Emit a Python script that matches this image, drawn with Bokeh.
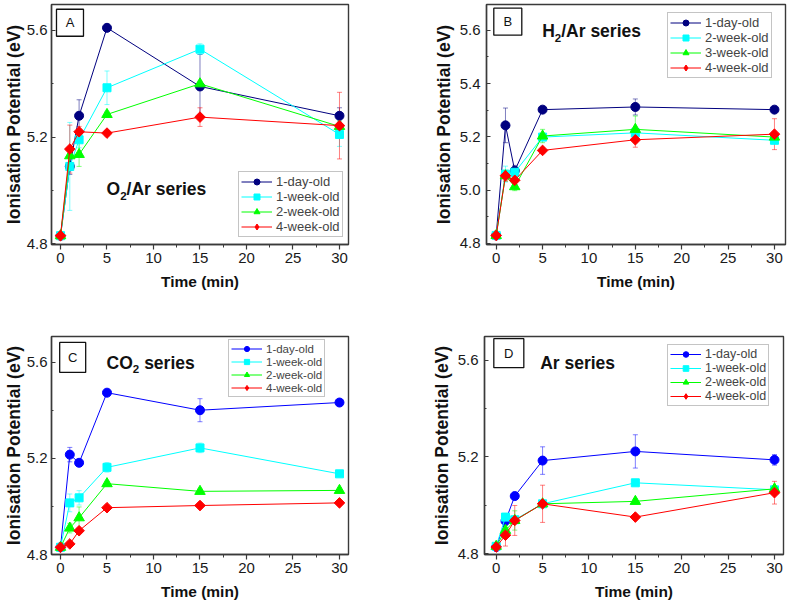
import numpy as np
from bokeh.plotting import figure
from bokeh.models import (ColumnDataSource, Whisker, TeeHead, Legend, LegendItem,
                          FixedTicker, Range1d, Label, PrintfTickFormatter)
from bokeh.layouts import column, row
from bokeh.embed import file_html
from bokeh.resources import INLINE

# ---------------- data ----------------
time_min = [0, 1, 2, 5, 15, 30]
x_ticks = [0, 5, 10, 15, 20, 25, 30]
x_minor = [2.5, 7.5, 12.5, 17.5, 22.5, 27.5]

# Panel A : O2/Ar series
a_labels = ["1-day-old", "1-week-old", "2-week-old", "4-week-old"]
a_1day = [4.83, 5.09, 5.28, 5.61, 5.39, 5.28]
a_1day_err = [0.005, 0.03, 0.06, 0.01, 0.12, 0.03]
a_1week = [4.83, 5.09, 5.19, 5.385, 5.53, 5.21]
a_1week_err = [0.005, 0.165, 0.03, 0.063, 0.02, 0.045]
a_2week = [4.83, 5.13, 5.135, 5.285, 5.40, 5.24]
a_2week_err = [0.005, 0.03, 0.045, 0.01, 0.01, 0.02]
a_4week = [4.83, 5.155, 5.22, 5.215, 5.275, 5.243]
a_4week_err = [0.005, 0.09, 0.02, 0.01, 0.035, 0.125]

# Panel B : H2/Ar series
b_labels = ["1-day-old", "2-week-old", "3-week-old", "4-week-old"]
b_1day = [4.83, 5.243, 5.073, 5.302, 5.312, 5.302]
b_1day_err = [0.005, 0.065, 0.02, 0.01, 0.03, 0.01]
b_2week = [4.83, 5.06, 5.067, 5.199, 5.215, 5.187]
b_2week_err = [0.005, 0.03, 0.02, 0.01, 0.02, 0.01]
b_3week = [4.83, 5.054, 5.013, 5.203, 5.228, 5.199]
b_3week_err = [0.005, 0.02, 0.015, 0.025, 0.05, 0.01]
b_4week = [4.83, 5.054, 5.037, 5.149, 5.189, 5.21]
b_4week_err = [0.005, 0.02, 0.015, 0.01, 0.028, 0.058]

# Panel C : CO2 series
c_labels = ["1-day-old", "1-week-old", "2-week-old", "4-week-old"]
c_1day = [4.83, 5.216, 5.182, 5.474, 5.401, 5.433]
c_1day_err = [0.005, 0.03, 0.01, 0.01, 0.048, 0.01]
c_1week = [4.83, 5.015, 5.036, 5.163, 5.244, 5.136]
c_1week_err = [0.005, 0.037, 0.03, 0.02, 0.02, 0.01]
c_2week = [4.83, 4.91, 4.953, 5.095, 5.063, 5.067]
c_2week_err = [0.005, 0.02, 0.045, 0.01, 0.01, 0.01]
c_4week = [4.83, 4.844, 4.899, 4.995, 5.004, 5.015]
c_4week_err = [0.005, 0.01, 0.01, 0.01, 0.01, 0.01]

# Panel D : Ar series
d_labels = ["1-day-old", "1-week-old", "2-week-old", "4-week-old"]
d_1day = [4.827, 4.935, 5.038, 5.185, 5.223, 5.188]
d_1day_err = [0.005, 0.01, 0.01, 0.057, 0.069, 0.022]
d_1week = [4.83, 4.951, 4.94, 5.006, 5.093, 5.064]
d_1week_err = [0.005, 0.01, 0.01, 0.01, 0.01, 0.01]
d_2week = [4.83, 4.896, 4.937, 5.006, 5.016, 5.068]
d_2week_err = [0.005, 0.02, 0.04, 0.01, 0.01, 0.01]
d_4week = [4.827, 4.876, 4.937, 5.006, 4.951, 5.052]
d_4week_err = [0.005, 0.045, 0.062, 0.077, 0.01, 0.047]

yticks_coarse = [4.8, 5.2, 5.6]
yminor_coarse = [5.0, 5.4]
yticks_fine = [4.8, 5.0, 5.2, 5.4, 5.6]
yminor_fine = [4.9, 5.1, 5.3, 5.5]

FONT = "Liberation Sans"
FRAME = "#3a3a3a"


def make_panel(w, h, borders, xr, yr, yticks, yminor, labels, series, errs,
               day_color, letter, letter_pos, letter_size, title_parts, title_pos,
               legend_loc, legend_font, legend_row, ylab_standoff, ytick_standoff):
    bl, br, bt, bb = borders
    p = figure(width=w, height=h, x_range=Range1d(*xr), y_range=Range1d(*yr),
               output_backend="svg", toolbar_location=None,
               min_border_left=bl, min_border_right=br,
               min_border_top=bt, min_border_bottom=bb)
    p.background_fill_color = "white"
    p.border_fill_color = "white"
    p.outline_line_color = FRAME
    p.outline_line_width = 1.4
    p.xgrid.visible = False
    p.ygrid.visible = False

    xa = p.xaxis[0]
    xa.ticker = FixedTicker(ticks=x_ticks, minor_ticks=x_minor)
    xa.major_tick_in = 0
    xa.major_tick_out = 5
    xa.minor_tick_in = 0
    xa.minor_tick_out = 3
    xa.major_label_standoff = 3
    xa.axis_label = "Time (min)"
    xa.axis_label_text_font = FONT
    xa.axis_label_text_font_style = "bold"
    xa.axis_label_text_font_size = "15.5px"
    xa.axis_label_standoff = 7

    ya = p.yaxis[0]
    ya.ticker = FixedTicker(ticks=yticks, minor_ticks=yminor)
    ya.formatter = PrintfTickFormatter(format="%.1f")
    ya.major_tick_in = 4
    ya.major_tick_out = 0
    ya.minor_tick_in = 2
    ya.minor_tick_out = 0
    ya.major_label_standoff = ytick_standoff
    ya.axis_label = "Ionisation Potential (eV)"
    ya.axis_label_text_font = FONT
    ya.axis_label_text_font_style = "bold"
    ya.axis_label_text_font_size = "17.5px"
    ya.axis_label_standoff = ylab_standoff

    for ax in (xa, ya):
        ax.axis_line_color = FRAME
        ax.axis_line_width = 1.4
        ax.major_tick_line_color = FRAME
        ax.minor_tick_line_color = FRAME
        ax.major_tick_line_width = 1.2
        ax.minor_tick_line_width = 1
        ax.major_label_text_font = FONT
        ax.major_label_text_font_size = "15px"
        ax.major_label_text_color = "#1a1a1a"
        ax.axis_label_text_color = "#111111"

    colors = [day_color, "#00FFFF", "#00FF00", "#FF0000"]
    markers = ["circle", "square", "triangle", "square"]
    legend_markers = ["circle", "square", "triangle", "diamond"]
    sizes = [9, 8, 10.5, 7.5]
    angles = [0, 0, 0, np.pi / 4]

    items = []
    for lab, vals, err, c, m, lm, s, a in zip(labels, series, errs, colors, markers,
                                               legend_markers, sizes, angles):
        src = ColumnDataSource(dict(
            x=time_min, y=vals,
            upper=[v + e for v, e in zip(vals, err)],
            lower=[v - e for v, e in zip(vals, err)]))
        wk = Whisker(source=src, base="x", upper="upper", lower="lower",
                     line_color=c, line_alpha=0.5, line_width=1, level="underlay",
                     upper_head=TeeHead(size=5, line_color=c, line_alpha=0.5, line_width=1),
                     lower_head=TeeHead(size=5, line_color=c, line_alpha=0.5, line_width=1))
        p.add_layout(wk)
        lr = p.line("x", "y", source=src, line_color=c, line_width=1)
        sr = p.scatter("x", "y", source=src, marker=m, size=s, angle=a,
                       fill_color=c, line_color=c, line_width=1)
        if lm != m:
            # hidden twin renderer so that the legend shows a diamond sample
            sr = p.scatter("x", "y", source=src, marker=lm, size=s,
                           fill_color=c, line_color=c, visible=False)
        items.append(LegendItem(label=lab, renderers=[lr, sr]))

    leg = Legend(items=items, location=legend_loc,
                 label_text_font=FONT, label_text_font_size=legend_font,
                 label_height=legend_row, glyph_height=legend_row, glyph_width=31,
                 label_standoff=4, spacing=0, padding=2, margin=0,
                 border_line_color="#8a8a8a", border_line_width=1,
                 background_fill_color="white", background_fill_alpha=1)
    p.add_layout(leg)

    # letter box
    lx, ly = letter_pos
    p.rect(x=[lx], y=[ly], width=letter_size[0], height=letter_size[1],
           width_units="screen", height_units="screen",
           fill_color="white", line_color="#111111", line_width=1.3)
    p.add_layout(Label(x=lx, y=ly, text=letter, text_align="center",
                       text_baseline="middle", text_font=FONT,
                       text_font_size="13px", text_color="#111111"))

    # series title with subscript
    tx, ty = title_pos
    for txt, xo, yo, fs in title_parts:
        p.add_layout(Label(x=tx, y=ty, x_offset=xo, y_offset=yo, text=txt,
                           text_align="left", text_baseline="alphabetic",
                           text_font=FONT, text_font_style="bold",
                           text_font_size=fs, text_color="#111111"))
    return p


pa = make_panel(394, 303, (51, 46, 2, 59), (-0.968, 30.97), (4.797, 5.6975),
                yticks_coarse, yminor_coarse, a_labels,
                [a_1day, a_1week, a_2week, a_4week],
                [a_1day_err, a_1week_err, a_2week_err, a_4week_err],
                "#00007F", "A", (1.02, 5.629), (27, 27),
                [("O", 0, 0, "17.5px"), ("2", 13.6, -6.5, "11.5px"), ("/Ar series", 20.0, 0, "17.5px")],
                (4.95, 5.005), (187, 7), "13px", 15, 0, 4)

pb = make_panel(393, 303, (92, 2, 4, 57), (-1.046, 31.19), (4.796, 5.6965),
                yticks_fine, yminor_fine, b_labels,
                [b_1day, b_2week, b_3week, b_4week],
                [b_1day_err, b_2week_err, b_3week_err, b_4week_err],
                "#00007F", "B", (1.25, 5.632), (28, 27),
                [("H", 0, 0, "17.5px"), ("2", 12.6, -6.5, "11.5px"), ("/Ar series", 19.0, 0, "17.5px")],
                (4.96, 5.596), (181, 166), "13px", 15, 3, 6)

pc = make_panel(394, 303, (51, 46, 33, 49), (-0.968, 30.97), (4.8, 5.708),
                yticks_coarse, yminor_coarse, c_labels,
                [c_1day, c_1week, c_2week, c_4week],
                [c_1day_err, c_1week_err, c_2week_err, c_4week_err],
                "#0000FF", "C", (1.31, 5.621), (26, 30),
                [("CO", 0, 0, "17.5px"), ("2", 26.3, -6.5, "11.5px"), ("series", 37.6, 0, "17.5px")],
                (4.95, 5.599), (177, 157), "11.5px", 13, 0, 4)

pd_ = make_panel(393, 303, (90, 4, 32, 52), (-1.261, 30.97), (4.796, 5.699),
                 yticks_coarse, yminor_coarse, d_labels,
                 [d_1day, d_1week, d_2week, d_4week],
                 [d_1day_err, d_1week_err, d_2week_err, d_4week_err],
                 "#0000FF", "D", (1.36, 5.63), (30, 29),
                 [("Ar series", 0, 0, "17.5px")],
                 (4.74, 5.59), (183, 148), "12.5px", 14, 3, 6)

layout = column(row(pa, pb), row(pc, pd_))
open("out.html", "w").write(file_html(layout, INLINE))
